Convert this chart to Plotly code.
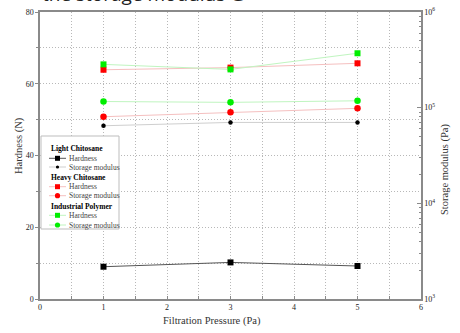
import plotly.graph_objects as go

# ---- data ----
pressure = [1, 3, 5]
light_hardness = [9.0, 10.2, 9.2]
light_modulus = [64700, 70100, 70100]
heavy_hardness = [63.9, 64.5, 65.7]
heavy_modulus = [80400, 89300, 98400]
indus_hardness = [65.4, 64.0, 68.5]
indus_modulus = [116000, 113600, 118000]

x_ticks = [0, 1, 2, 3, 4, 5, 6]
y_ticks = [0, 20, 40, 60, 80]
y2_ticks = [1e3, 1e4, 1e5, 1e6]
y2_labels = ["10<sup>3</sup>", "10<sup>4</sup>", "10<sup>5</sup>", "10<sup>6</sup>"]

FONT = "Liberation Serif"
GRID = "#b8b8b8"
GDASH = "1px,2px"
AX = "#8a8a8a"

series = [
    # name, group, x, y, axis, marker color, line color, symbol, size
    ("Hardness", "Light Chitosane", pressure, light_hardness, "y", "black", "#555555", "square", 6),
    ("Storage modulus", "Light Chitosane", pressure, light_modulus, "y2", "black", "#cfcfcf", "circle", 4.5),
    ("Hardness", "Heavy Chitosane", pressure, heavy_hardness, "y", "#ff0000", "#f5c0c0", "square", 6),
    ("Storage modulus", "Heavy Chitosane", pressure, heavy_modulus, "y2", "#ff0000", "#f5c0c0", "circle", 6.5),
    ("Hardness", "Industrial Polymer", pressure, indus_hardness, "y", "#00ee00", "#c0f5c0", "square", 6),
    ("Storage modulus", "Industrial Polymer", pressure, indus_modulus, "y2", "#00ee00", "#c0f5c0", "circle", 6.5),
]

fig = go.Figure()
for name, grp, xs, ys, ax, mc, lc, sym, sz in series:
    fig.add_trace(go.Scatter(
        x=xs, y=ys, yaxis=ax, mode="lines+markers", name=name, legendgroup=grp,
        line=dict(color=lc, width=1),
        marker=dict(color=mc, symbol=sym, size=sz, line=dict(width=0)),
        showlegend=False,
    ))

# ---- manual compact legend ----
L, T = 40, 12
W, H = 381, 287
def px(x):
    return (x - L) / W
def py(y):
    return (T + H - y) / H

shapes = [dict(type="rect", xref="paper", yref="paper", x0=px(41), x1=px(119), y0=py(229), y1=py(136),
               line=dict(color="#bdbdbd", width=1), fillcolor="white", layer="above")]
annotations = []
rows = [148.3, 158.3, 167, 177.7, 186.7, 195.7, 206.3, 215.3, 225]
groups = ["Light Chitosane", "Heavy Chitosane", "Industrial Polymer"]
for gi, g in enumerate(groups):
    ty = rows[gi * 3]
    annotations.append(dict(xref="paper", yref="paper", x=px(49), y=py(ty), text="<b>" + g + "</b>",
                            showarrow=False, xanchor="left", yanchor="middle",
                            font=dict(family=FONT, size=7.5, color="black")))
    for k in range(2):
        s = series[gi * 2 + k]
        ry = rows[gi * 3 + 1 + k]
        shapes.append(dict(type="line", xref="paper", yref="paper", x0=px(49), x1=px(66), y0=py(ry), y1=py(ry),
                           line=dict(color=s[6], width=1), layer="above"))
        r = 2.5 if s[7] == "square" else (1.6 if s[5] == "black" else 2.6)
        shapes.append(dict(type="rect" if s[7] == "square" else "circle", xref="paper", yref="paper",
                           x0=px(57.5 - r), x1=px(57.5 + r), y0=py(ry + r), y1=py(ry - r),
                           line=dict(width=0), fillcolor=s[5], layer="above"))
        annotations.append(dict(xref="paper", yref="paper", x=px(67), y=py(ry), text=s[0],
                                showarrow=False, xanchor="left", yanchor="middle",
                                font=dict(family=FONT, size=7.5, color="#444444")))

# axis titles
annotations += [
    dict(xref="paper", yref="paper", x=px(212), y=py(321), text="Filtration Pressure (Pa)", showarrow=False,
         xanchor="center", yanchor="middle", font=dict(family=FONT, size=10.5, color="#333333")),
    dict(xref="paper", yref="paper", x=px(19), y=py(146), text="Hardness (N)", showarrow=False, textangle=-90,
         xanchor="center", yanchor="middle", font=dict(family=FONT, size=10.5, color="#333333")),
    dict(xref="paper", yref="paper", x=px(445), y=py(170), text="Storage modulus (Pa)", showarrow=False, textangle=-90,
         xanchor="center", yanchor="middle", font=dict(family=FONT, size=10.5, color="#333333")),
    # cropped heading at the very top of the picture
    dict(xref="paper", yref="paper", x=px(40), y=py(9), text="the storage modulus G", showarrow=False,
         xanchor="left", yanchor="bottom", font=dict(family="Open Sans", size=19, color="#222222")),
]

minor_y2 = [m * 10 ** e for e in (3, 4, 5) for m in range(2, 10)]

fig.update_layout(
    width=460, height=333,
    margin=dict(l=40, r=39, t=12, b=34, autoexpand=False),
    paper_bgcolor="white", plot_bgcolor="white",
    font=dict(family=FONT, size=8, color="#333333"),
    showlegend=False,
    shapes=shapes, annotations=annotations,
    xaxis=dict(range=[0, 6], tickvals=x_ticks, showgrid=True, gridcolor=GRID, griddash=GDASH, gridwidth=1,
               showline=True, linecolor=AX, linewidth=1.5, mirror=True, ticks="inside", ticklen=3,
               tickcolor=AX, zeroline=False, automargin=False,
               tickfont=dict(family=FONT, size=8, color="#222222"),
               minor=dict(dtick=0.5, showgrid=True, gridcolor=GRID, griddash=GDASH, ticks="inside",
                          ticklen=3, tickcolor=AX)),
    yaxis=dict(range=[0, 80], tickvals=y_ticks, showgrid=True, gridcolor=GRID, griddash=GDASH, gridwidth=1,
               showline=True, linecolor=AX, linewidth=1.5, ticks="outside", ticklen=3, tickcolor=AX,
               zeroline=False, automargin=False, tickfont=dict(family=FONT, size=8, color="#222222"),
               minor=dict(dtick=10, showgrid=True, gridcolor=GRID, griddash=GDASH, ticks="outside",
                          ticklen=2, tickcolor=AX)),
    yaxis2=dict(type="log", range=[3, 6], overlaying="y", side="right", tickvals=y2_ticks, ticktext=y2_labels,
                showgrid=False, showline=True, linecolor=AX, linewidth=1.5, ticks="inside", ticklen=4,
                tickcolor=AX, zeroline=False, automargin=False,
                tickfont=dict(family=FONT, size=8, color="#222222"),
                minor=dict(tickvals=minor_y2, ticks="inside", ticklen=2, tickcolor=AX)),
)

fig.write_html("out.html", config={"displayModeBar": False},
               post_script="document.body.style.margin='0';document.body.style.padding='0';")
